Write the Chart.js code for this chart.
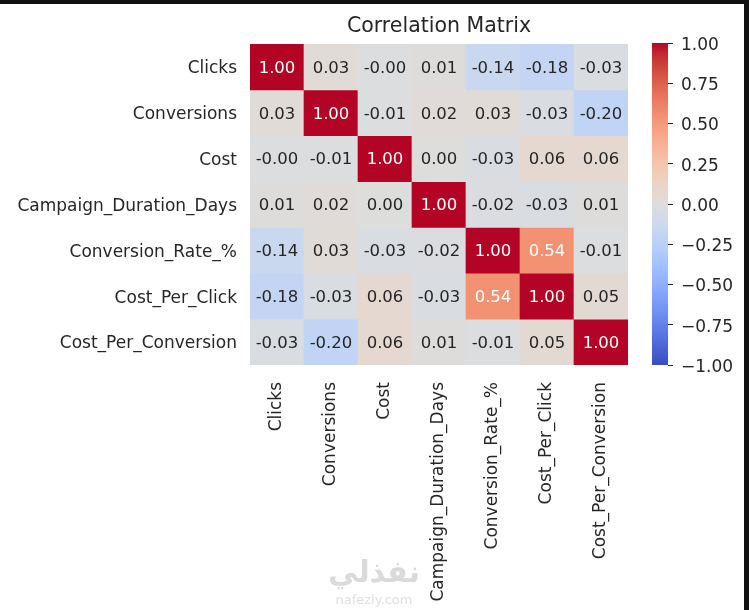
<!DOCTYPE html>
<html>
<head>
<meta charset="utf-8">
<script src="https://cdn.jsdelivr.net/npm/chart.js@4/dist/chart.umd.min.js"></script>
<style>
  html,body{margin:0;padding:0;background:#fff;width:749px;height:610px;overflow:hidden;position:relative;font-family:"DejaVu Sans",sans-serif;}
  canvas{position:absolute;top:0;}
  #heat{left:0;}
  #cbar{left:630px;}
  .frameTop{position:absolute;left:0;top:0;width:749px;height:4px;background:#111;}
  .frameRight{position:absolute;left:744px;top:0;width:5px;height:610px;background:#111;}
  .wm{position:absolute;left:328px;top:553px;width:92px;text-align:center;color:#dadada;}
  .wm .ar{font-size:30px;font-weight:bold;line-height:38px;}
  .wm .en{font-size:13px;line-height:14px;margin-top:2px;color:#e0e0e0;}
</style>
</head>
<body>
<canvas id="heat" width="640" height="610"></canvas>
<canvas id="cbar" width="114" height="610"></canvas>
<div class="wm"><div class="ar">نفذلي</div><div class="en">nafezly.com</div></div>
<div class="frameTop"></div>
<div class="frameRight"></div>
<script>
// variables (row = column order)
const vars = ['Clicks','Conversions','Cost','Campaign_Duration_Days','Conversion_Rate_%','Cost_Per_Click','Cost_Per_Conversion'];

// correlation rows (-0.00 kept as a tiny negative)
const rowClicks      = [ 1.00,  0.03, -0.004, 0.01, -0.14, -0.18, -0.03];
const rowConversions = [ 0.03,  1.00, -0.01,  0.02,  0.03, -0.03, -0.20];
const rowCost        = [-0.004,-0.01,  1.00,  0.003,-0.03,  0.06,  0.06];
const rowDuration    = [ 0.01,  0.02,  0.003, 1.00, -0.02, -0.03,  0.01];
const rowConvRate    = [-0.14,  0.03, -0.03, -0.02,  1.00,  0.54, -0.01];
const rowCpc         = [-0.18, -0.03,  0.06, -0.03,  0.54,  1.00,  0.05];
const rowCpConv      = [-0.03, -0.20,  0.06,  0.01, -0.01,  0.05,  1.00];
const corrRows = [rowClicks,rowConversions,rowCost,rowDuration,rowConvRate,rowCpc,rowCpConv];

const cbarTicks = [-1,-0.75,-0.5,-0.25,0,0.25,0.5,0.75,1];

// coolwarm (Moreland) samples
const coolwarm = [[59,76,192],[68,90,204],[77,104,215],[87,117,225],[98,130,234],[108,142,241],[119,154,247],[130,165,251],[141,176,254],[152,185,255],[163,194,255],[174,201,253],[184,208,249],[194,213,244],[204,217,238],[213,219,230],[221,221,221],[229,216,209],[236,211,197],[241,204,185],[245,196,173],[247,187,160],[247,177,148],[247,166,135],[244,154,123],[241,141,111],[236,127,99],[229,112,88],[222,96,77],[213,80,66],[203,62,56],[192,40,47],[180,4,38]];

function cwRGB(v){
  let t=(v+1)/2; t=Math.max(0,Math.min(1,t));
  const p=t*(coolwarm.length-1), i=Math.min(Math.floor(p),coolwarm.length-2), f=p-i;
  const a=coolwarm[i], b=coolwarm[i+1];
  return [0,1,2].map(k=>a[k]+(b[k]-a[k])*f);
}
function cw(v){ const c=cwRGB(v); return `rgb(${c.map(Math.round).join(',')})`; }
function textColor(v){
  const lin=cwRGB(v).map(x=>{x/=255; return x<=0.03928?x/12.92:Math.pow((x+0.055)/1.055,2.4);});
  const lum=0.2126*lin[0]+0.7152*lin[1]+0.0722*lin[2];
  return lum>0.408?'#262626':'#ffffff';
}

const FONT='"DejaVu Sans", sans-serif';
const INK='#262626';

const datasets = corrRows.map((row,i)=>({
  label: vars[i],
  data: row.map((v,j)=>({x:vars[j], y:[i,i+1], v})),
  backgroundColor: c=>cw(c.raw.v),
  borderWidth:0,
  barPercentage:1,
  categoryPercentage:1,
  grouped:false
}));

const annotate = {
  id:'annotate',
  afterDatasetsDraw(chart){
    const ctx=chart.ctx;
    ctx.save();
    ctx.font='16.5px '+FONT;
    ctx.textAlign='center';
    ctx.textBaseline='middle';
    chart.data.datasets.forEach((ds,i)=>{
      chart.getDatasetMeta(i).data.forEach((el,j)=>{
        const v=ds.data[j].v;
        const p=el.getCenterPoint();
        ctx.fillStyle=textColor(v);
        ctx.fillText(v.toFixed(2),p.x,p.y+1.5);
      });
    });
    ctx.restore();
  }
};

new Chart(document.getElementById('heat'),{
  type:'bar',
  data:{labels:vars,datasets},
  options:{
    responsive:false,animation:false,
    layout:{padding:{left:0,right:12,top:0,bottom:0}},
    plugins:{
      legend:{display:false},tooltip:{enabled:false},
      title:{display:true,text:'Correlation Matrix',fullSize:false,color:INK,
        font:{family:FONT,size:20.5,weight:'normal'},padding:{top:14.5,bottom:4.9}}
    },
    scales:{
      x:{
        type:'category',offset:true,
        grid:{display:false,drawTicks:false},border:{display:false},
        ticks:{color:INK,font:{family:FONT,size:17},minRotation:90,maxRotation:90,padding:17,autoSkip:false},
        afterFit(s){ s.height=245; }
      },
      y:{
        type:'linear',min:0,max:7,reverse:true,
        grid:{display:false,drawTicks:false},border:{display:false},
        afterBuildTicks(s){ s.ticks=vars.map((_,i)=>({value:i+0.5})); },
        ticks:{color:INK,font:{family:FONT,size:17},padding:13,labelOffset:2,autoSkip:false,
          callback:v=>vars[Math.floor(v)]},
        afterFit(s){ s.width=250; }
      }
    }
  },
  plugins:[annotate]
});

// colour bar
new Chart(document.getElementById('cbar'),{
  type:'bar',
  data:{labels:[''],datasets:[{
    data:[[-1,1]],
    borderWidth:0,barPercentage:1,categoryPercentage:1,
    backgroundColor:c=>{
      const a=c.chart.chartArea; if(!a) return cw(0);
      const g=c.chart.ctx.createLinearGradient(0,a.bottom,0,a.top);
      coolwarm.forEach((col,k)=>g.addColorStop(k/(coolwarm.length-1),`rgb(${col.join(',')})`));
      return g;
    }
  }]},
  options:{
    responsive:false,animation:false,
    layout:{padding:{top:43,bottom:245,left:22,right:0}},
    plugins:{legend:{display:false},tooltip:{enabled:false}},
    scales:{
      x:{display:false,offset:true},
      y:{
        position:'right',min:-1,max:1,
        border:{display:false},
        grid:{display:true,drawOnChartArea:false,drawTicks:true,tickLength:5,tickColor:INK,tickWidth:1},
        afterBuildTicks(s){ s.ticks=cbarTicks.map(v=>({value:v})); },
        ticks:{color:INK,font:{family:FONT,size:17},padding:8,labelOffset:2.5,
          callback:v=>v.toFixed(2).replace('-','\u2212')},
        afterFit(s){ s.width=76; }
      }
    }
  }
});
</script>
</body>
</html>
